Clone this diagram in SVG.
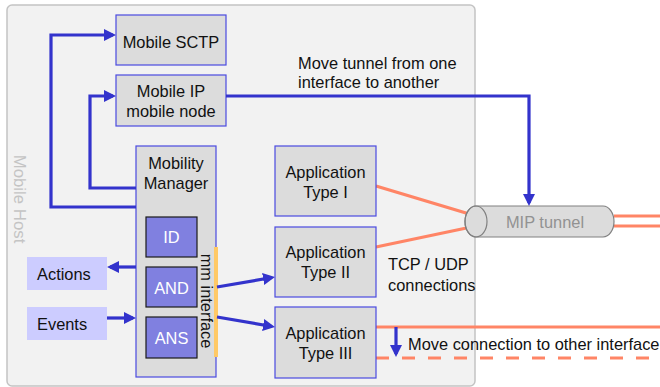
<svg xmlns="http://www.w3.org/2000/svg" width="660" height="387" viewBox="0 0 660 387">
<style>
text{font-family:"Liberation Sans",Arial,sans-serif;font-size:16.4px;fill:#111}
.box{fill:#dcdcdc;stroke:#4a4ae0;stroke-width:1.2}
.sub{fill:#8080e0;stroke:#1a1a1a;stroke-width:1.2}
.wt{fill:#ffffff}
.lb{fill:#ccccff}
.c{text-anchor:middle}
.blue{fill:none;stroke:#3333cc;stroke-width:3.2}
.orng{fill:none;stroke:#ff8566;stroke-width:3.2}
</style>
<defs>
<marker id="ah" markerUnits="userSpaceOnUse" markerWidth="12" markerHeight="12" refX="9" refY="6" orient="auto">
<path d="M0,0 L12,6 L0,12 z" fill="#3333cc"/>
</marker>
</defs>
<g id="mobile-host">
<rect x="7" y="5" width="468" height="381" rx="5" fill="#f2f2f2" stroke="#c4c4c4" stroke-width="1.5"/>
<text transform="translate(14,199) rotate(90)" class="c" style="fill:#c4c4c4;font-size:16.8px">Mobile Host</text>
</g>
<g id="orange-lines">
<path class="orng" d="M376,186 L476,216 M376,247 L476,226"/>
<path class="orng" d="M614,216 H660 M614,226 H660"/>
<path class="orng" d="M376,327 H660"/>
<path class="orng" d="M376,358 H660" stroke-dasharray="13 13"/>
</g>
<g id="mip-tunnel">
<path d="M476,206 H603 A11,15.5 0 0 1 603,237 H476 A11,15.5 0 0 1 476,206 Z" fill="#dcdcdc" stroke="#808080" stroke-width="1.2"/>
<ellipse cx="476" cy="221.5" rx="11" ry="15.5" fill="none" stroke="#808080" stroke-width="1.2"/>
<text x="545" y="227.5" class="c" style="fill:#929292">MIP tunnel</text>
</g>
<g id="mobile-sctp">
<rect class="box" x="116" y="15" width="110" height="50"/>
<text x="171" y="47.5" class="c">Mobile SCTP</text>
</g>
<g id="mobile-ip">
<rect class="box" x="116" y="75" width="110" height="51"/>
<text x="171" y="97" class="c">Mobile IP</text>
<text x="171" y="117" class="c">mobile node</text>
</g>
<g id="mobility-manager">
<rect class="box" x="136" y="146" width="80" height="231"/>
<text x="176" y="169" class="c">Mobility</text>
<text x="176" y="189" class="c">Manager</text>
</g>
<g id="id">
<rect class="sub" x="146" y="217" width="51" height="40"/>
<text x="171.5" y="243" class="c wt">ID</text>
</g>
<g id="and">
<rect class="sub" x="146" y="267" width="51" height="40"/>
<text x="171.5" y="294" class="c wt">AND</text>
</g>
<g id="ans">
<rect class="sub" x="146" y="317" width="51" height="41"/>
<text x="171.5" y="344" class="c wt">ANS</text>
</g>
<g id="mm-interface">
<rect x="214" y="247" width="4" height="110" fill="#ffc966"/>
<text transform="translate(201,301) rotate(90)" class="c">mm interface</text>
</g>
<g id="app1">
<rect class="box" x="275" y="146" width="101" height="70"/>
<text x="325.5" y="177.5" class="c">Application</text>
<text x="325.5" y="197.5" class="c">Type I</text>
</g>
<g id="app2">
<rect class="box" x="275" y="227" width="101" height="70"/>
<text x="325.5" y="258" class="c">Application</text>
<text x="325.5" y="278" class="c">Type II</text>
</g>
<g id="app3">
<rect class="box" x="275" y="307" width="101" height="71"/>
<text x="325.5" y="339" class="c">Application</text>
<text x="325.5" y="359" class="c">Type III</text>
</g>
<g id="actions">
<rect class="lb" x="27" y="257" width="80" height="33"/>
<text x="37" y="280">Actions</text>
</g>
<g id="events">
<rect class="lb" x="27" y="307" width="80" height="33"/>
<text x="37" y="330">Events</text>
</g>
<g id="connectors">
<path class="blue" d="M136,207 H51 V35 H113" marker-end="url(#ah)"/>
<path class="blue" d="M136,188 H90 V96 H113" marker-end="url(#ah)"/>
<path class="blue" d="M226,96 H529 V203" marker-end="url(#ah)"/>
<path class="blue" d="M136,267 H110" marker-end="url(#ah)"/>
<path class="blue" d="M107,318 H133" marker-end="url(#ah)"/>
<path class="blue" d="M217,287 L272,277.5" marker-end="url(#ah)"/>
<path class="blue" d="M217,317 L272,326.5" marker-end="url(#ah)"/>
<path class="blue" d="M396,327 V354" marker-end="url(#ah)"/>
</g>
<g id="labels">
<text x="298" y="69">Move tunnel from one</text>
<text x="298" y="88">interface to another</text>
<text x="388" y="269.5">TCP / UDP</text>
<text x="388" y="290.5">connections</text>
<text x="408" y="349.5">Move connection to other interface</text>
</g>
</svg>
